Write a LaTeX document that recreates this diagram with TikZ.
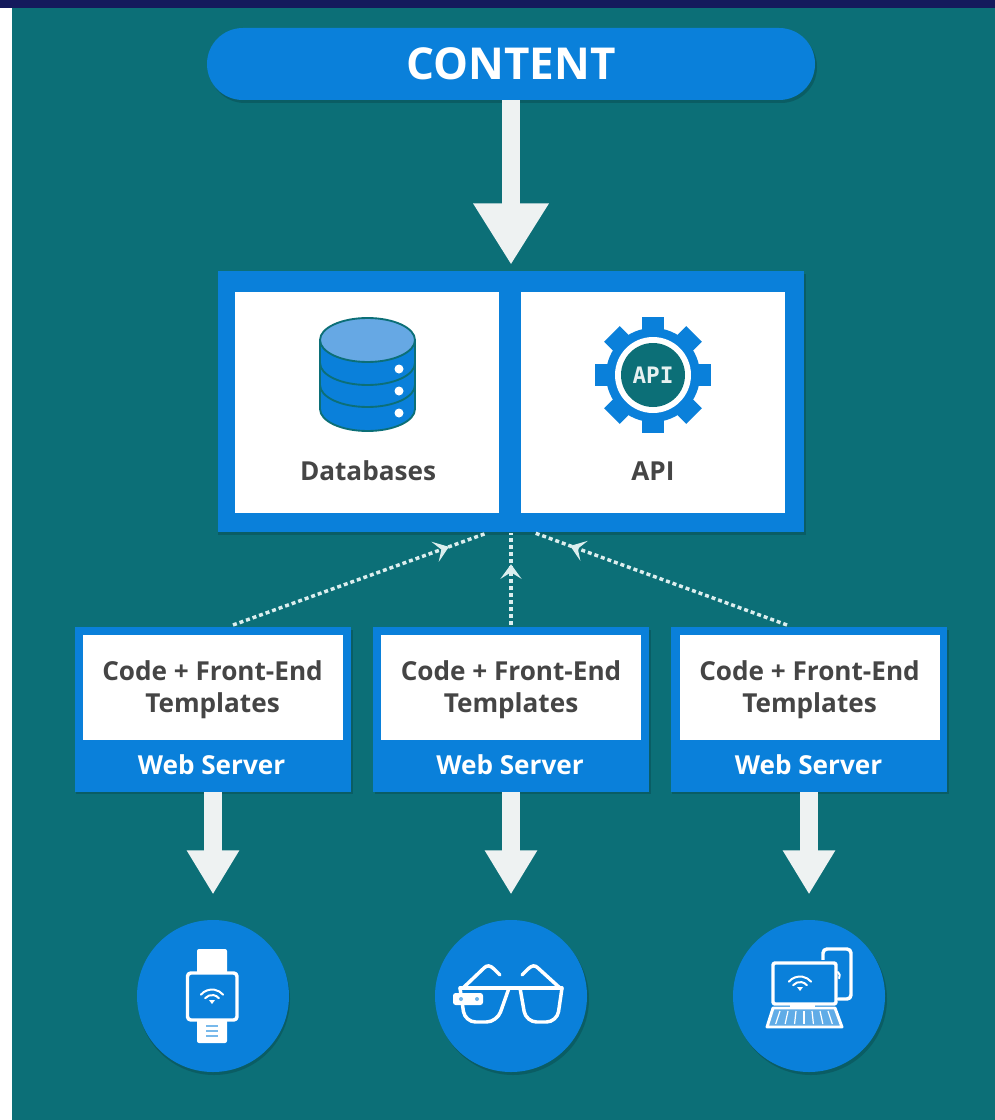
\documentclass[tikz,border=0pt]{standalone}
\usepackage{fontspec}
\setmainfont{Open Sans}
\newfontfamily\apifont{DejaVu Sans Mono}
\usetikzlibrary{arrows.meta,decorations.markings,calc}
\definecolor{bgteal}{HTML}{0C6F77}
\definecolor{shadeteal}{HTML}{0A5D64}
\definecolor{navy}{HTML}{141A5C}
\definecolor{cblue}{HTML}{0A80DA}
\definecolor{dbtop}{HTML}{66A8E4}
\definecolor{ink}{HTML}{454545}
\definecolor{stem}{HTML}{EEF2F2}
\definecolor{dots}{HTML}{DCEEEE}
\tikzset{
  x=.75pt,y=.75pt,
  pill/.style={fill=cblue,minimum width=456pt,minimum height=54pt,rounded corners=26.9pt,inner sep=0pt,text=white,font=\fontsize{33pt}{36pt}\selectfont\bfseries},
  panel/.style={fill=cblue,inner sep=0pt},
  cell/.style={fill=white,inner sep=0pt,minimum width=198pt,minimum height=166pt},
  tplcell/.style={fill=white,inner sep=0pt,minimum width=195pt,minimum height=78.75pt},
  tpltext/.style={inner sep=0pt,align=center,text=ink,font=\fontsize{19.6pt}{24.4pt}\selectfont\bfseries},
  weblabel/.style={text=white,inner sep=0pt,font=\fontsize{19.6pt}{22pt}\selectfont\bfseries},
  cellabel/.style={text=ink,inner sep=0pt,font=\fontsize{19.6pt}{22pt}\selectfont\bfseries},
  device/.style={circle,fill=cblue,minimum size=114pt,inner sep=0pt},
  bigflow/.style={draw=stem,line width=13.5pt,-{Triangle[width=53.5pt,length=46pt]},shorten >=4.5pt},
  smallflow/.style={draw=stem,line width=13.5pt,-{Triangle[width=37pt,length=33pt]},shorten >=19pt},
  dotflow/.style={draw=dots,line width=2.6pt,dash pattern=on 3pt off 2.2pt,postaction={decorate},
    decoration={markings,mark=at position #1 with {\arrow[solid,dots,line width=1pt]{Stealth[width=16pt,length=11pt,inset=5pt]}}}},
  iconline/.style={draw=white,line width=2.6pt,line join=round,line cap=round},
  thinline/.style={draw=white,line width=1.5pt,line cap=round},
  dbline/.style={draw=bgteal,line width=1.4pt},
}
\newcommand{\wifimark}[2]{%
  \draw[thinline] ($(#1,#2-8)+(140:9)$) arc[start angle=140,end angle=40,radius=9];
  \draw[thinline] ($(#1,#2-8)+(140:14.5)$) arc[start angle=140,end angle=40,radius=14.5];
  \fill[white] (#1-3,#2-4) -- (#1+3,#2-4) -- (#1,#2-8) -- cycle;
}
\begin{document}
\begin{tikzpicture}
\useasboundingbox (0,0) rectangle (995,-1120);
\fill[white] (0,0) rectangle (995,-1120);
\fill[bgteal] (12,0) rectangle (995,-1120);
\fill[navy] (0,0) rectangle (995,-8);

% shadows
\fill[shadeteal] (218,-274) rectangle (806,-535);
\fill[shadeteal,rounded corners=26.9pt] (209,-31) rectangle (817,-103);
\foreach \xa/\xb in {75/351,374/649,671/947}{
  \fill[shadeteal] (\xa+1,-630) rectangle (\xb+2,-794);
}
\foreach \cx in {212,511,809}{
  \fill[shadeteal] (\cx+2,-999) circle[radius=76];
}

% content
\node[pill] (content) at (511,-64) {CONTENT};

% core panel
\node[panel,minimum width=439.5pt,minimum height=195.75pt] (core) at (511,-401.5) {};
\node[cell] (dbcell) at (367,-402.5) {};
\node[cell] (apicell) at (653,-402.5) {};
\node[cellabel] (dblabel) at (368,-471) {Databases};
\node[cellabel] (apilabel) at (653,-471) {API};

% database icon
\begin{scope}
  \path[fill=cblue,dbline] (320,-340) -- (320,-409) arc[start angle=180,end angle=360,x radius=47.5,y radius=22] -- (415,-340) -- cycle;
  \draw[dbline] (320,-363) arc[start angle=180,end angle=360,x radius=47.5,y radius=22];
  \draw[dbline] (320,-385) arc[start angle=180,end angle=360,x radius=47.5,y radius=22];
  \path[fill=dbtop,dbline] (367.5,-340) ellipse[x radius=47.5,y radius=22];
  \foreach \yy in {369,391,413}{\fill[white] (399,-\yy) circle[radius=4.5];}
\end{scope}

% gear icon
\begin{scope}[shift={(653,-375)}]
  \fill[cblue] (0,0) circle[radius=47];
  \foreach \ang in {0,45,...,315}{
    \fill[cblue,rotate=\ang] (-11,0) rectangle (11,58);
  }
  \fill[white] (0,0) circle[radius=38];
  \fill[bgteal] (0,0) circle[radius=32];
  \node[text=white!90!bgteal,inner sep=0pt,font=\fontsize{17pt}{18pt}\selectfont\apifont\bfseries] (gearlabel) at (0,0) {API};
\end{scope}

% servers
\foreach \nm/\cx/\tx in {1/213/212.5,2/511/511,3/809/809.5}{
  \node[panel,minimum width=207pt,minimum height=123.75pt] (srv\nm) at (\cx,-709.5) {};
  \node[tplcell] (tpl\nm) at (\tx,-687.5) {};
  \node[tpltext] (tpltext\nm) at (\tx,-689.5) {Code + Front-End\\Templates};
  \node[weblabel] (web\nm) at (\tx-1,-765) {Web Server};
}

% devices
\node[device] (dev1) at (213,-996) {};
\node[device] (dev2) at (511,-996) {};
\node[device] (dev3) at (809,-996) {};

% flows
\draw[bigflow] (content.south) -- (core.north);
\draw[smallflow] (srv1.south) -- (dev1.north);
\draw[smallflow] (srv2.south) -- (dev2.north);
\draw[smallflow] (srv3.south) -- (dev3.north);

\coordinate (out1) at (233,-625);
\coordinate (in1) at (487,-533);
\coordinate (out2) at (511,-625);
\coordinate (in2) at (511,-533);
\coordinate (out3) at (787,-625);
\coordinate (in3) at (535,-533);
\draw[dotflow=0.85] (out1) -- (in1);
\draw[dotflow=0.66] (out2) -- (in2);
\draw[dotflow=0.86] (out3) -- (in3);

% watch
\fill[white,rounded corners=1.5pt] (197,-949) rectangle (227,-975);
\fill[white,rounded corners=1.5pt] (197,-1018) rectangle (227,-1043);
\path[fill=cblue,iconline,rounded corners=2.5pt] (187.5,-973) rectangle (237,-1020);
\wifimark{212}{-996}
\foreach \yy in {1026,1031,1036}{\draw[draw=cblue!55!white,line width=1pt] (206,-\yy) -- (218,-\yy);}

% glasses
\draw[iconline] (500,-975) -- (494,-969) .. controls (490,-965) and (487,-965) .. (484,-968) -- (463,-988);
\draw[iconline] (522,-975) -- (528,-969) .. controls (532,-965) and (535,-965) .. (538,-968) -- (560,-988);
\draw[iconline] (460,-988) -- (562,-988);
\draw[iconline,rounded corners=8pt] (460,-988) -- (465,-1022) -- (497,-1022) -- (509,-988);
\draw[iconline,rounded corners=8pt] (520,-988) -- (526,-1022) -- (557,-1022) -- (562,-988);
\fill[white,rounded corners=2pt] (453,-993) rectangle (483,-1005);
\fill[cblue!60!white] (461,-999) circle[radius=2];
\fill[cblue!60!white] (477,-999) circle[radius=2];

% phone and laptop
\draw[iconline,rounded corners=3pt] (823,-962) -- (823,-949) -- (851,-949) -- (851,-999) -- (838,-999);
\fill[cblue] (812,-960) rectangle (836,-1004);
\draw[thinline] (838,-972) arc[start angle=50,end angle=-30,radius=5];
\path[fill=cblue,iconline,rounded corners=1.5pt] (773,-963) rectangle (836,-1004);
\wifimark{800}{-983}
\path[fill=cblue!65!white,draw=white,line width=2.2pt,line join=round] (773,-1008) -- (835,-1008) -- (842,-1027) -- (767,-1027) -- cycle;
\foreach \kx in {-24,-16,...,24}{
  \draw[draw=white,line width=.9pt] (804+\kx,-1011) -- (804+1.18*\kx,-1024);
}
\draw[draw=white,line width=1.6pt] (790,-1006) -- (815,-1006);
\end{tikzpicture}
\end{document}
